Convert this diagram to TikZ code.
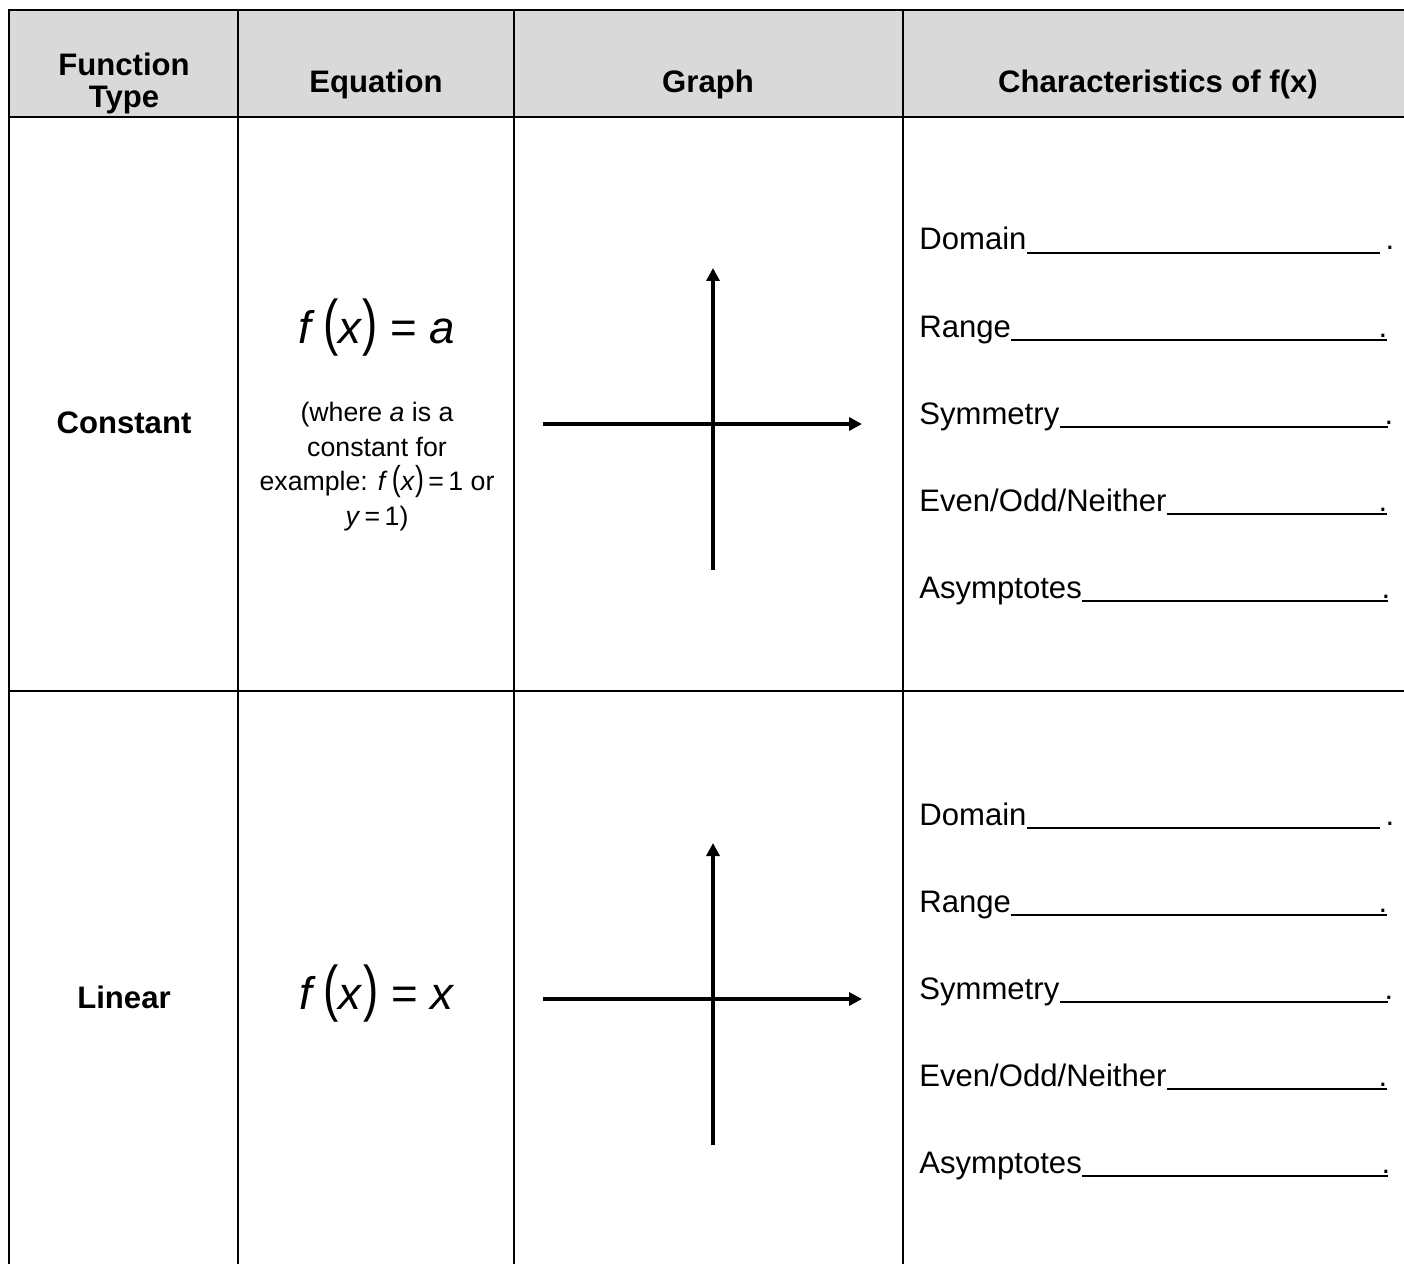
\documentclass[tikz,border=0pt]{standalone}
\usepackage{fontspec}
\setmainfont{Liberation Sans}
\usepackage{graphicx}
\usetikzlibrary{arrows.meta}

\definecolor{headgray}{HTML}{D9D9D9}
\newcommand{\bigpar}[1]{\scalebox{1}[1.35]{#1}}
\newcommand{\smallpar}[1]{\scalebox{1}[1.3]{#1}}
\newcommand{\eon}{Even/Odd/Neither}

\tikzset{
  grid line/.style={line width=0.04cm},
  axis line/.style={line width=0.08cm, -{Triangle[length=0.26cm,width=0.26cm]}},
  under line/.style={line width=0.04cm},
  head/.style={font=\fontsize{17.7}{18.7}\selectfont\bfseries, inner sep=0pt},
  txt/.style={font=\fontsize{17.7}{21}\selectfont, inner sep=0pt},
  small/.style={font=\fontsize{15.2}{19.6}\selectfont, inner sep=0pt},
  bigeq/.style={font=\fontsize{26}{30}\selectfont, inner sep=0pt}
}

\begin{document}
\begin{tikzpicture}[x=0.02cm,y=-0.02cm]
  \useasboundingbox (0,0) rectangle (1404,1264);
  % table
  \fill[headgray] (9,10) rectangle (1404,117);
  \draw[grid line] (1404,10) -- (9,10) -- (9,1264);
  \draw[grid line] (9,117) -- (1404,117);
  \draw[grid line] (9,691) -- (1404,691);
  \foreach \cx in {238,514,903} \draw[grid line] (\cx,10) -- (\cx,1264);

  % header row (base = last line)
  \node[head, anchor=base, align=center] (hType) at (124,108) {Function\\Type};
  \node[head, anchor=base] (hEq) at (376,93) {Equation};
  \node[head, anchor=base] (hGraph) at (708,93) {Graph};
  \node[head, anchor=base] (hChar) at (1158,93) {Characteristics of f(x)};

  % function types
  \node[head, anchor=base] (tConst) at (124,433) {Constant};
  \node[head, anchor=base] (tLin) at (124,1008) {Linear};

  % equations
  \node[bigeq, anchor=base] (eqConst) at (377,343)
    {\textit{f}\,\bigpar{(}\textit{x}\bigpar{)}\;=\;\textit{a}};
  \node[small, anchor=base, align=center] (eqNote) at (377,525)
    {(where \textit{a} is a\\constant for\\example: \textit{f}\,\smallpar{(}\textit{x}\smallpar{)}\,=\,1 or\\\textit{y}\,=\,1)};
  \node[bigeq, anchor=base] (eqLin) at (377,1009)
    {\textit{f}\,\bigpar{(}\textit{x}\bigpar{)}\;=\;\textit{x}};

  % graphs and characteristics
  \foreach \r/\dy in {1/0,2/575} {
    \coordinate (yb\r) at (713,570+\dy);
    \coordinate (yt\r) at (713,268+\dy);
    \coordinate (xl\r) at (543,424+\dy);
    \coordinate (xr\r) at (862,424+\dy);
    \draw[axis line] (yb\r) -- (yt\r);
    \draw[axis line] (xl\r) -- (xr\r);
    \foreach \lab/\ux/\px [count=\i from 0] in
      {Domain/1380/1390, Range/1387/1383, Symmetry/1388/1389, \eon/1387/1383, Asymptotes/1388/1386} {
      \node[txt, anchor=base west] (c\r\i) at (919,250+87*\i+\dy) {\lab};
      \node[txt, anchor=base] (dot\r\i) at (\px,250+87*\i+\dy) {.};
      \coordinate (u\r\i) at (\ux,253+87*\i+\dy);
      \draw[under line] (c\r\i.base east |- u\r\i) -- (u\r\i);
    }
  }
\end{tikzpicture}
\end{document}
